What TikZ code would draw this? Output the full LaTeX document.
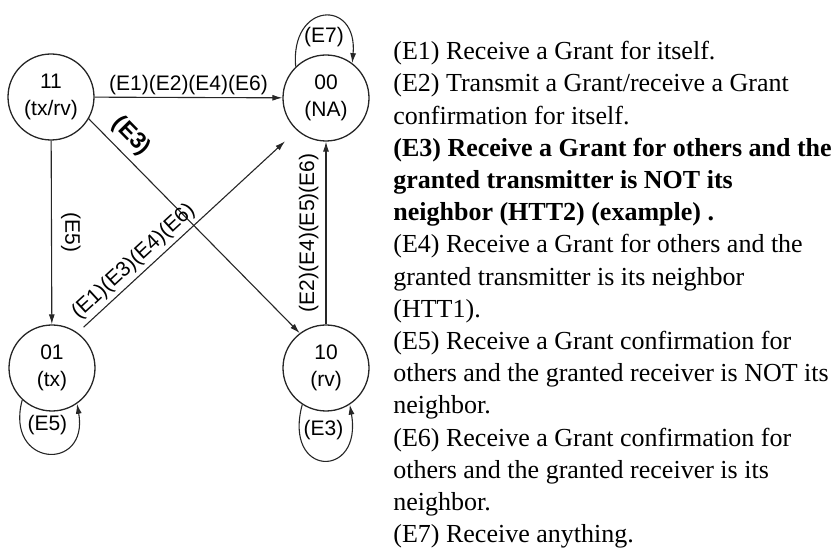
\documentclass[tikz,border=0pt]{standalone}
\usepackage{fontspec}
\setmainfont{Liberation Serif}
\setsansfont{Liberation Sans}
\usetikzlibrary{arrows.meta}

\begin{document}
\begin{tikzpicture}[x=0.5pt,y=0.5pt]
                    \tikzset{state/.style={circle, draw=black!85, line width=0.65pt, minimum size=43pt, inner sep=0pt, align=center, font=\sffamily\fontsize{10.5}{13.5}\selectfont}}
                    \tikzset{trans/.style={draw=black!85, line width=0.55pt, -{Latex[length=5pt,width=3pt]}}}
                    \tikzset{lbl/.style={font=\sffamily\fontsize{10.5}{12}\selectfont, inner sep=1pt}}
                    \useasboundingbox (0,0) rectangle (835,550);
                    \node[state] (s11) at (51,453) {11\\(tx/rv)};
                    \node[state] (s00) at (326,452) {00\\(NA)};
                    \node[state] (s01) at (52,182) {01\\(tx)};
                    \node[state] (s10) at (326,182) {10\\(rv)};
                    \draw[trans] (s11) -- (s00) node[lbl, midway, above] {(E1)(E2)(E4)(E6)};
                    \draw[trans] (s11) -- (s01) node[lbl, midway, sloped, above=3.5pt] {(E5)};
                    \draw[trans] (s11.-30) -- (s10.127) node[lbl, pos=0.14, sloped, above=2.5pt, font=\sffamily\bfseries\fontsize{11.5}{13}\selectfont] {(E3)};
                    \draw[trans, shorten <=4pt, shorten >=8pt] (s01.54) -- (s00.228) node[lbl, pos=0.3, sloped, above=1pt] {(E1)(E3)(E4)(E6)};
                    \draw[trans] (s10) -- (s00) node[lbl, midway, sloped, above=2.5pt] {(E2)(E4)(E5)(E6)};
                    % self loops
                    \draw[trans] (s00.134) .. controls +(95:65) and +(85:65) .. (s00.53) node[lbl, midway, yshift=-10.5pt] {(E7)};
                    \draw[trans] (s01.227) .. controls +(255:70) and +(280:70) .. (s01.305) node[lbl, midway, yshift=14pt] {(E5)};
                    \draw[trans] (s10.237) .. controls +(255:76) and +(280:76) .. (s10.303) node[lbl, midway, yshift=15pt] {(E3)};
                    % events
                    \node[anchor=north west, inner sep=0pt, align=left, font=\fontsize{13}{16.1}\selectfont] (events) at (393,509) {%
                        (E1) Receive a Grant for itself.\\
                        (E2) Transmit a Grant/receive a Grant\\
                        confirmation for itself.\\
                        \textbf{(E3) Receive a Grant for others and the}\\
                        \textbf{granted transmitter is NOT its}\\
                        \textbf{neighbor (HTT2) (example) .}\\
                        (E4) Receive a Grant for others and the\\
                        granted transmitter is its neighbor\\
                        (HTT1).\\
                        (E5) Receive a Grant confirmation for\\
                        others and the granted receiver is NOT its\\
                        neighbor.\\
                        (E6) Receive a Grant confirmation for\\
                        others and the granted receiver is its\\
                        neighbor.\\
                        (E7) Receive anything.};
\end{tikzpicture}
\end{document}
